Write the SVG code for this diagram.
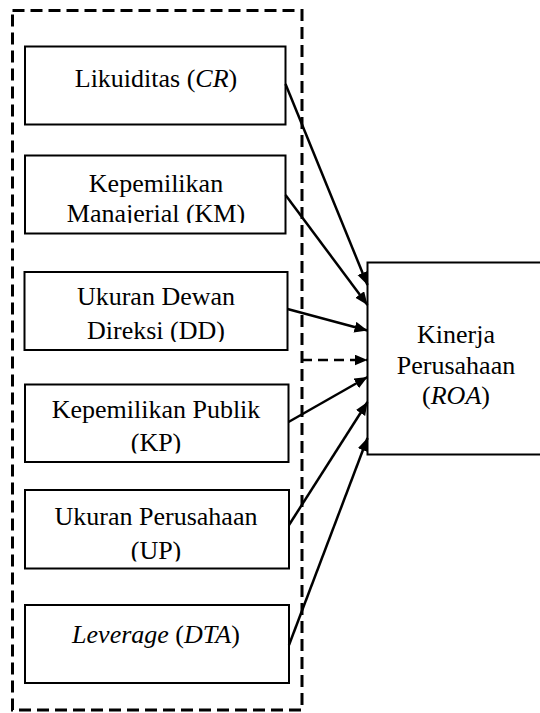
<svg xmlns="http://www.w3.org/2000/svg" width="540" height="713" viewBox="0 0 540 713">
<style>
.box{fill:#fff;stroke:#000;stroke-width:2}
.t{font-family:"Liberation Serif","Times New Roman",serif;font-size:26px;fill:#000;text-anchor:middle}
.i{font-style:italic}
.dash{fill:none;stroke:#000;stroke-width:3;stroke-dasharray:12 6}
.arr{fill:none;stroke:#000;stroke-width:2.5;marker-end:url(#ah)}
.arrd{fill:none;stroke:#000;stroke-width:2.5;stroke-dasharray:10 6;marker-end:url(#ah)}
</style>
<defs>
<marker id="ah" markerUnits="userSpaceOnUse" markerWidth="14" markerHeight="12" refX="13" refY="5.5" orient="auto">
<path d="M0,0 L13,5.5 L0,11 z" fill="#000"/>
</marker>
<clipPath id="c2"><rect x="25" y="156" width="260" height="67"/></clipPath>
<clipPath id="c3"><rect x="25" y="273" width="262" height="69"/></clipPath>
<clipPath id="c4"><rect x="25" y="385" width="262" height="68.5"/></clipPath>
<clipPath id="c5"><rect x="25" y="491" width="263" height="70.5"/></clipPath>
</defs>
<g id="group-outer">
<rect class="dash" x="12.5" y="10.5" width="289.5" height="699.5"/>
</g>
<g id="node-cr">
<rect class="box" x="25" y="46.5" width="260.5" height="78"/>
<text class="t" x="156" y="87">Likuiditas (<tspan class="i">CR</tspan>)</text>
</g>
<g id="node-km">
<rect class="box" x="25" y="155.5" width="260.5" height="78"/>
<g clip-path="url(#c2)">
<text class="t" x="156" y="191.5">Kepemilikan</text>
<text class="t" x="156" y="221.5">Manajerial (KM)</text>
</g>
</g>
<g id="node-dd">
<rect class="box" x="24.5" y="272" width="263" height="78"/>
<g clip-path="url(#c3)">
<text class="t" x="156" y="305">Ukuran Dewan</text>
<text class="t" x="156" y="339">Direksi (DD)</text>
</g>
</g>
<g id="node-kp">
<rect class="box" x="25" y="384.5" width="263.5" height="77.5"/>
<g clip-path="url(#c4)">
<text class="t" x="156" y="418">Kepemilikan Publik</text>
<text class="t" x="156" y="450.5">(KP)</text>
</g>
</g>
<g id="node-up">
<rect class="box" x="25" y="490" width="264" height="78.5"/>
<g clip-path="url(#c5)">
<text class="t" x="156" y="525">Ukuran Perusahaan</text>
<text class="t" x="156" y="559">(UP)</text>
</g>
</g>
<g id="node-dta">
<rect class="box" x="25" y="605" width="264" height="78"/>
<text class="t" x="156" y="643"><tspan class="i">Leverage</tspan> (<tspan class="i">DTA</tspan>)</text>
</g>
<g id="node-roa">
<rect class="box" x="367.5" y="262.5" width="180" height="192"/>
<text class="t" x="456" y="343">Kinerja</text>
<text class="t" x="456" y="374">Perusahaan</text>
<text class="t" x="456" y="404">(<tspan class="i">ROA</tspan>)</text>
</g>
<g id="connectors">
<line class="arr" x1="285.5" y1="84" x2="367.5" y2="285"/>
<line class="arr" x1="285.5" y1="195" x2="367.5" y2="305"/>
<line class="arr" x1="287.5" y1="309" x2="367.5" y2="330.5"/>
<line class="arrd" x1="302" y1="360" x2="367.5" y2="360"/>
<line class="arr" x1="288.5" y1="422" x2="367.5" y2="377"/>
<line class="arr" x1="289" y1="525" x2="367.5" y2="402"/>
<line class="arr" x1="289" y1="645" x2="367.5" y2="438"/>
</g>
</svg>
